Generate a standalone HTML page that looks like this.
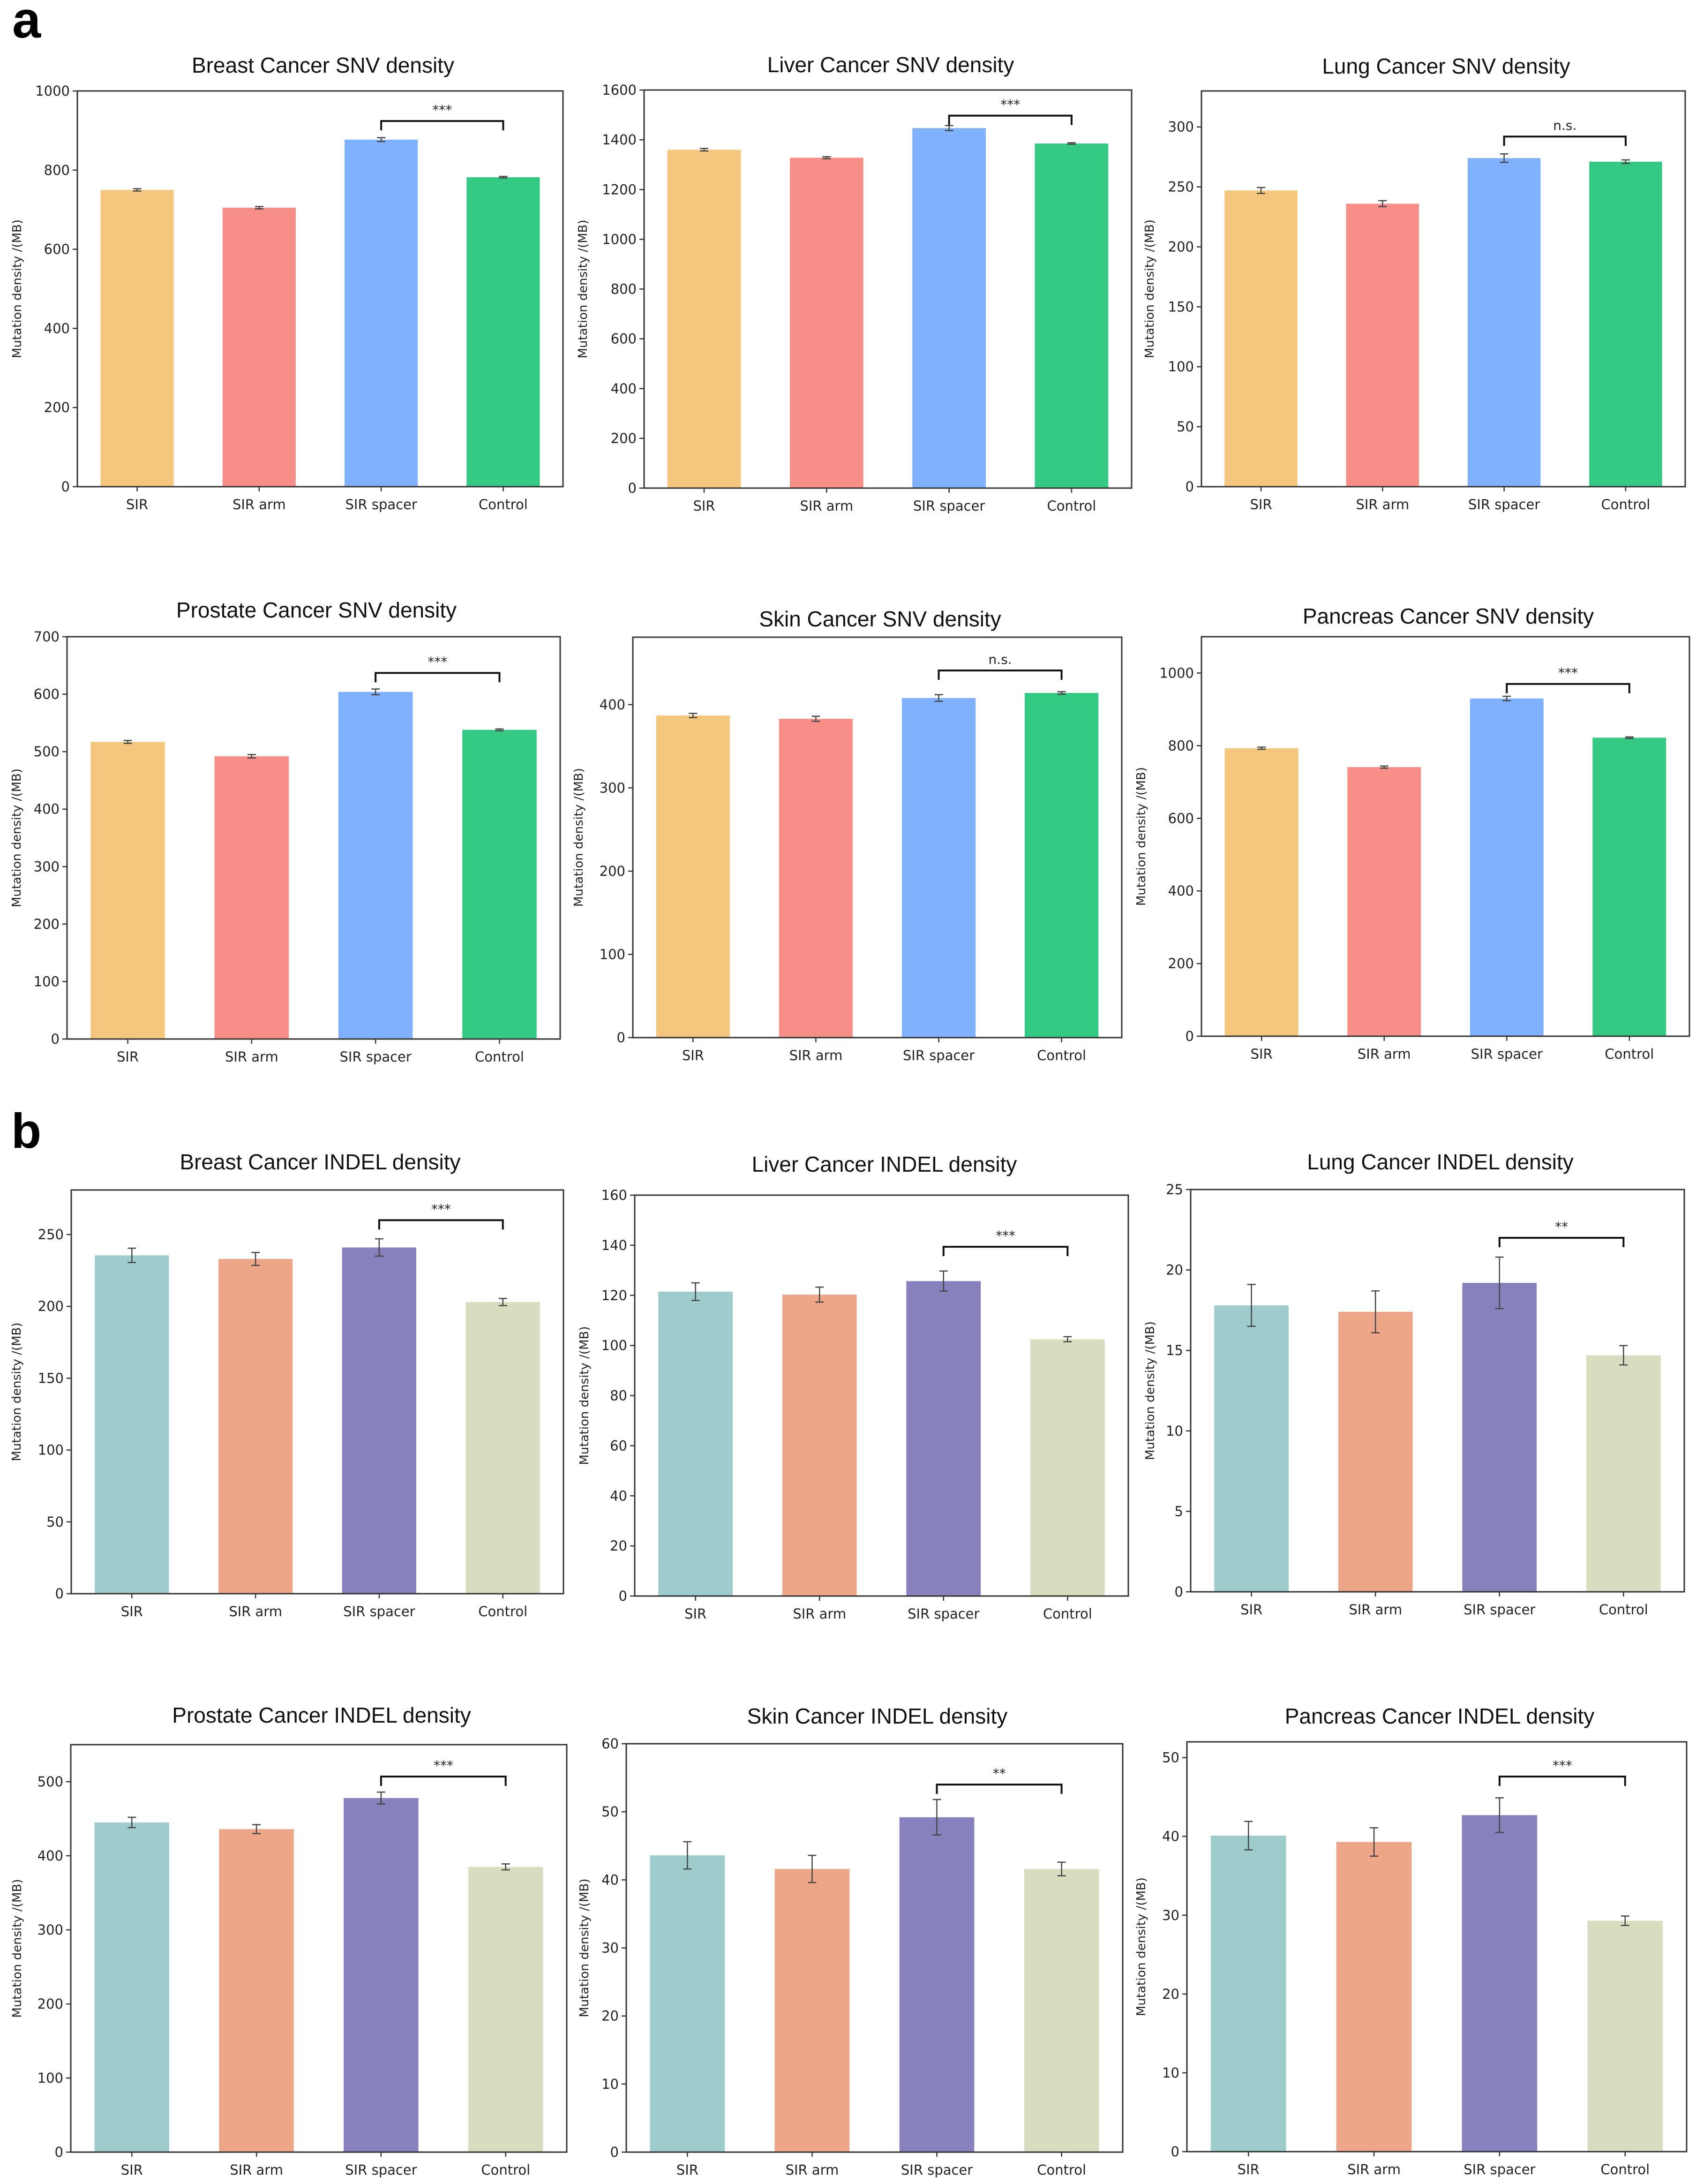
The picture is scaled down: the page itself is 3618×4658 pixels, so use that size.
<!DOCTYPE html>
<html><head><meta charset="utf-8">
<style>
html,body{margin:0;padding:0;background:#fff;}
svg{display:block;}
text{font-family:"DejaVu Sans","Liberation Sans",sans-serif;fill:#222;}
.title{font-family:"Liberation Sans",sans-serif;fill:#111;}
</style></head>
<body>
<svg id="fig" width="3618" height="4658" viewBox="0 0 3618 4658" xmlns="http://www.w3.org/2000/svg">
<rect width="3618" height="4658" fill="#fff"/>
<text x="26" y="80" font-size="110" font-weight="bold" style="font-family:'Liberation Sans',sans-serif;fill:#000">a</text>
<text x="24" y="2448" font-size="105" font-weight="bold" style="font-family:'Liberation Sans',sans-serif;fill:#000">b</text>
</svg>
<script>
const categories = ["SIR", "SIR arm", "SIR spacer", "Control"];
const titles = ["Breast Cancer SNV density","Liver Cancer SNV density","Lung Cancer SNV density",
 "Prostate Cancer SNV density","Skin Cancer SNV density","Pancreas Cancer SNV density",
 "Breast Cancer INDEL density","Liver Cancer INDEL density","Lung Cancer INDEL density",
 "Prostate Cancer INDEL density","Skin Cancer INDEL density","Pancreas Cancer INDEL density"];
const breastSnv = [750, 705, 877, 782];
const breastSnvErr = [3, 3, 5, 2];
const liverSnv = [1360, 1328, 1447, 1385];
const liverSnvErr = [5, 4, 10, 3];
const lungSnv = [247, 236, 274, 271];
const lungSnvErr = [2.5, 2.5, 3.5, 1.5];
const prostateSnv = [517, 492, 604, 538];
const prostateSnvErr = [2.5, 3, 5, 1.5];
const skinSnv = [387, 383, 408, 414];
const skinSnvErr = [2.5, 3, 4, 1.5];
const pancreasSnv = [793, 741, 930, 822];
const pancreasSnvErr = [3, 3, 6, 2];
const breastIndel = [235.5, 233, 241, 203];
const breastIndelErr = [5, 4.5, 6, 2.5];
const liverIndel = [121.5, 120.3, 125.7, 102.5];
const liverIndelErr = [3.5, 3, 4, 1];
const lungIndel = [17.8, 17.4, 19.2, 14.7];
const lungIndelErr = [1.3, 1.3, 1.6, 0.6];
const prostateIndel = [445, 436, 478, 385];
const prostateIndelErr = [7, 6, 8, 4];
const skinIndel = [43.6, 41.6, 49.2, 41.6];
const skinIndelErr = [2, 2, 2.6, 1];
const pancreasIndel = [40.1, 39.3, 42.7, 29.3];
const pancreasIndelErr = [1.8, 1.8, 2.2, 0.6];
const yMaxes = [1000, 1600, 330, 700, 481, 1100, 281, 160, 25, 550, 60, 52];
const yTickSteps = [200, 200, 50, 100, 100, 200, 50, 20, 5, 100, 10, 10];
const sigLabels = ["***","***","n.s.","***","n.s.","***","***","***","**","***","**","***"];
const bracketValues = [924, 1497, 292, 637, 441, 970, 260, 139.4, 22.0, 507, 54, 47.6];

const seriesValues = [breastSnv, liverSnv, lungSnv, prostateSnv, skinSnv, pancreasSnv,
  breastIndel, liverIndel, lungIndel, prostateIndel, skinIndel, pancreasIndel];
const seriesErrs = [breastSnvErr, liverSnvErr, lungSnvErr, prostateSnvErr, skinSnvErr, pancreasSnvErr,
  breastIndelErr, liverIndelErr, lungIndelErr, prostateIndelErr, skinIndelErr, pancreasIndelErr];

// layout: [left, top, right, bottom, titleBaseline, yLabelOffset]
const boxes = [
 [165,194,1201,1038,155,129],[1374,192,2414,1041,154,131],[2563,194,3595,1038,157,111],
 [143,1358,1195,2216,1317,108],[1350,1359,2393,2213,1336,116],[2563,1358,3604,2210,1330,129],
 [152,2538,1202,3399,2494,117],[1354,2549,2407,3404,2499,108],[2540,2537,3593,3395,2494,87],
 [151,3721,1209,4590,3674,115],[1336,3719,2395,4590,3676,90],[2532,3715,3598,4589,3676,98]];
const snvColors = ["#F5C77E","#F88E88","#80B1FE","#35CA84"];
const indelColors = ["#9ECCCD","#EDA688","#8781BD","#D7DEBF"];

const NS = "http://www.w3.org/2000/svg";
const svg = document.getElementById("fig");
function mk(tag, attrs, parent){
  const e = document.createElementNS(NS, tag);
  for (const k in attrs) e.setAttribute(k, attrs[k]);
  (parent||svg).appendChild(e);
  return e;
}
function fmt(v){ return (Math.round(v*100)/100).toString(); }

for (let p = 0; p < 12; p++){
  const [L,T,R,B,tb,ylo] = boxes[p];
  const vals = seriesValues[p], errs = seriesErrs[p];
  const ymax = yMaxes[p];
  const g = mk("g", {});
  
  
  const xmin = -0.49, xmaxv = 3.49;
  const xS = v => L + (v - xmin) / (xmaxv - xmin) * (R - L);
  const yS = v => B - v / ymax * (B - T);
  const colors = p < 6 ? snvColors : indelColors;

  const t = mk("text", {x:(L+R)/2+6, y:tb, "text-anchor":"middle", "font-size":46, class:"title"}, g);
  t.textContent = titles[p];
  
  

  for (let i = 0; i < vals.length; i++){
    const bw = 0.6 * (xS(1) - xS(0));
    const r = mk("rect", {x:xS(i)-bw/2, y:yS(vals[i]), width:bw, height:B - yS(vals[i]), fill:colors[i]}, g);
    
    
    const cx = xS(i), y1 = yS(vals[i]+errs[i]), y2 = yS(vals[i]-errs[i]);
    const eb = mk("path", {d:`M${cx},${y1}V${y2}M${cx-9},${y1}H${cx+9}M${cx-9},${y2}H${cx+9}`, stroke:"#444", "stroke-width":2.5, fill:"none"}, g);
    
    
  }

  const fr = mk("rect", {x:L, y:T, width:R-L, height:B-T, fill:"none", stroke:"#333", "stroke-width":3}, g);
  
  

  for (let v = 0; v <= ymax + 1e-9; v += yTickSteps[p]){
    const y = yS(v);
    const tk = mk("line", {x1:L-10, x2:L, y1:y, y2:y, stroke:"#333", "stroke-width":2.5}, g);
    
    
    const tl = mk("text", {x:L-16, y:y+10, "text-anchor":"end", "font-size":29}, g);
    tl.textContent = fmt(v);
    
    
  }
  for (let i = 0; i < categories.length; i++){
    const x = xS(i);
    const tk = mk("line", {x1:x, x2:x, y1:B, y2:B+10, stroke:"#333", "stroke-width":2.5}, g);
    
    
    const tl = mk("text", {x:x, y:B+48, "text-anchor":"middle", "font-size":29}, g);
    tl.textContent = categories[i];
    
    
  }
  const yl = mk("text", {x:0, y:9, "text-anchor":"middle", "font-size":26,
    transform:`translate(${L-ylo},${(T+B)/2}) rotate(-90)`}, g);
  yl.textContent = "Mutation density /(MB)";
  
  

  const by = yS(bracketValues[p]), bx1 = xS(2), bx2 = xS(3);
  const br = mk("path", {d:`M${bx1},${by+20}V${by}H${bx2}V${by+20}`, stroke:"#111", "stroke-width":4, fill:"none"}, g);
  
  
  const sl = mk("text", {x:(bx1+bx2)/2, y:by-14, "text-anchor":"middle", "font-size":28}, g);
  sl.textContent = sigLabels[p];
  
  
}
</script>
</body></html>
